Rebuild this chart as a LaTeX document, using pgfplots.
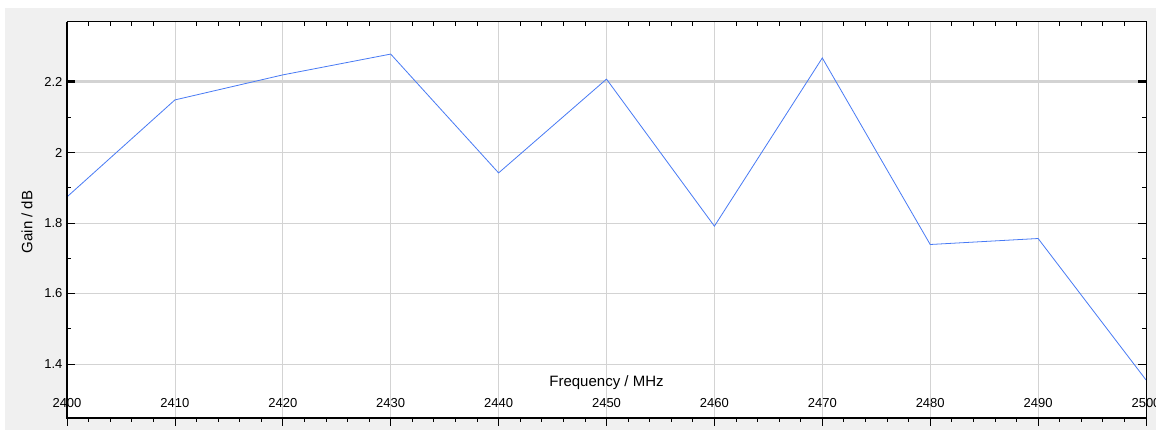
\documentclass[border=0pt]{standalone}
\usepackage{fontspec}
\setmainfont{Liberation Sans}
\usepackage{pgfplots}
\pgfplotsset{compat=1.18}

\definecolor{bgray}{RGB}{240,240,240}
\definecolor{gridgray}{RGB}{211,211,211}
\definecolor{lineblue}{RGB}{72,122,245}

\begin{document}
\begin{tikzpicture}
\useasboundingbox (-67pt,-12pt) rectangle (1089pt,418pt);
\fill[bgray] (-62pt,-12pt) rectangle (1089pt,410pt);

\pgfplotsset{
  common/.style={
    scale only axis,
    width=1079pt, height=396pt,
    at={(0,0)}, anchor=south west,
    xmin=2400, xmax=2500,
    ymin=1.247, ymax=2.370,
    xtick={2400,2410,...,2500},
    minor x tick num=4,
    major tick length=8pt,
    minor tick length=4pt,
    tick style={black, line width=0.8pt},
    axis line style={draw=none},
    /pgf/number format/assume math mode=true,
    /pgf/number format/set thousands separator={},
  },
}

% top ticks (pointing inward)
\begin{axis}[common,
  axis background/.style={fill=white},
  xtick pos=right, xtick align=inside,
  xticklabels={}, ytick=\empty,
]
\end{axis}

\begin{axis}[common,
  xtick pos=left, xtick align=outside,
  ytick={1.4,1.6,...,2.2},
  yticklabels={1.4,1.6,1.8,2,2.2},
  minor y tick num=1,
  ytick align=inside,
  ytick pos=both,
  grid=major,
  major grid style={gridgray, line width=0.8pt},
  extra y ticks={2.2},
  extra y tick labels={},
  extra y tick style={
    major grid style={gridgray, line width=3pt},
    major tick style={black, line width=3pt},
    ytick align=inside,
  },
  ticklabel style={font=\fontsize{13}{15}\selectfont},
  xticklabel style={anchor=base, yshift=18pt},
  yticklabel style={xshift=-1pt},
  xlabel={Frequency / MHz},
  ylabel={Gain / dB},
  label style={font=\fontsize{15}{18}\selectfont},
  xlabel style={at={(rel axis cs:0.5,0)}, anchor=base, yshift=31pt},
  ylabel style={at={(rel axis cs:0,0.5)}, anchor=center, rotate=0, yshift=40pt, xshift=-2pt},
  after end axis/.code={
    \draw[black, line width=2pt] (rel axis cs:0,1) -- (rel axis cs:0,0) -- (rel axis cs:1,0);
    \draw[black, line width=1pt] (rel axis cs:0,1) -- (rel axis cs:1,1) -- (rel axis cs:1,0);
  },
]
\addplot[color=lineblue, line width=0.8pt] coordinates {
  (2400,1.874) (2410,2.149) (2420,2.220) (2430,2.279)
  (2440,1.942) (2450,2.208) (2460,1.791) (2470,2.268)
  (2480,1.739) (2490,1.756) (2500,1.355)
};
\end{axis}
\end{tikzpicture}
\end{document}
